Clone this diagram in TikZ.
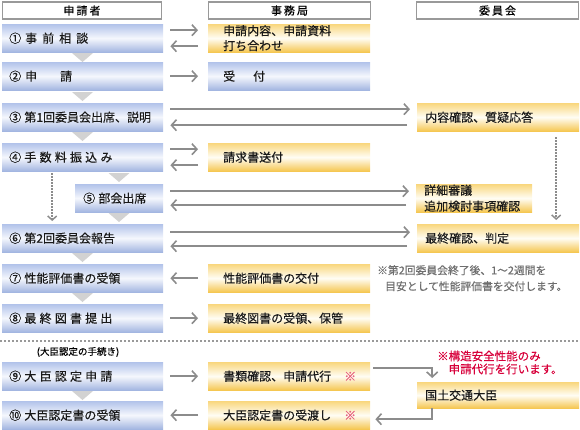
\documentclass[tikz,border=0pt]{standalone}
\usepackage{fontspec}
\setmainfont{Noto Sans CJK JP}[FakeBold=0.3]
\usepackage{xcolor}
\usetikzlibrary{arrows.meta, positioning, calc}
\definecolor{blueTop}{HTML}{B2C3EA}
\definecolor{blueMid}{HTML}{F5F7FD}
\definecolor{blueBot}{HTML}{A2B5E1}
\definecolor{yelTop}{HTML}{F9D77E}
\definecolor{yelMid}{HTML}{FFFDF4}
\definecolor{yelBot}{HTML}{F5C650}
\definecolor{arrowgray}{HTML}{8C8C8C}
\definecolor{headgray}{HTML}{999999}
\definecolor{trigray}{HTML}{D2D2D2}
\definecolor{notegray}{HTML}{6E6E6E}
\definecolor{notered}{HTML}{D7003A}
\definecolor{markred}{HTML}{E65C7E}
\newcommand{\boxfont}{\fontsize{12}{15}\selectfont}
\newcommand{\headfont}{\fontsize{11}{13}\selectfont}
\newcommand{\notefont}{\fontsize{10.8}{16}\selectfont}
\newcommand{\redfont}{\fontsize{11.5}{13}\selectfont}
\newcommand{\labelfont}{\fontsize{9.5}{11}\selectfont}
\newcommand{\jsp}{\hspace{3.2pt}}
\newcommand{\downtri}[2]{\fill[trigray] (#1-10.5,#2) -- (#1+10.5,#2) -- (#1,#2+9) -- cycle;}

\begin{document}
\begin{tikzpicture}[
  x=1pt, y=-1pt,
  box/.style={anchor=north west, minimum height=28pt, inner ysep=0pt,
              align=left, font=\boxfont, text=black!90},
  bluebox/.style={box, top color=blueTop, bottom color=blueBot, middle color=blueMid},
  yelbox/.style={box, top color=yelTop, bottom color=yelBot, middle color=yelMid},
  leftcol/.style={bluebox, text width=147pt, inner xsep=7pt},
  midcol/.style={yelbox, text width=132pt, inner xsep=15pt},
  rightcol/.style={yelbox, text width=146pt, inner xsep=8pt},
  head/.style={draw=headgray, line width=1.5pt, fill=white, minimum height=17pt,
               inner sep=0pt, font=\headfont},
  arr/.style={draw=arrowgray, line width=1.6pt, -{Straight Barb[length=5pt,width=11pt]}},
  dotarr/.style={draw=arrowgray, line width=1.5pt, dash pattern=on 1.5pt off 1.5pt,
                 -{Straight Barb[length=4pt,width=9pt]}},
]
\useasboundingbox (0,0) rectangle (580,429);

% column heads
\node[head, minimum width=159pt] (hApp) at (82,10.5)    {申\hspace{2pt}請\hspace{2pt}者};
\node[head, minimum width=162pt] (hOff) at (289.5,10.5) {事\hspace{2pt}務\hspace{2pt}局};
\node[head, minimum width=162pt] (hCom) at (497.5,10.5) {委\hspace{2pt}員\hspace{2pt}会};

% applicant steps
\node[leftcol] (s1) at (2,24)  {①\hspace{4pt}事\hspace{5pt}前\hspace{5pt}相\hspace{5pt}談};
\node[leftcol] (s2) at (2,62)  {②\hspace{4pt}申\hspace{23pt}請};
\node[leftcol] (s3) at (2,103) {③\jsp 第1回委員会出席、説明};
\node[leftcol] (s4) at (2,143) {④\jsp 手\jsp 数\jsp 料\jsp 振\jsp 込\jsp み};
\node[bluebox, text width=72pt, inner xsep=8pt] (s5) at (75,184) {⑤\jsp 部会出席};
\node[leftcol] (s6) at (2,224) {⑥\jsp 第2回委員会報告};
\node[leftcol] (s7) at (2,264) {⑦\jsp 性能評価書の受領};
\node[leftcol] (s8) at (2,304) {⑧\jsp 最\jsp 終\jsp 図\jsp 書\jsp 提\jsp 出};
\node[leftcol] (s9) at (2,362) {⑨\jsp 大\jsp 臣\jsp 認\jsp 定\jsp 申\jsp 請};
\node[leftcol] (s10) at (2,401) {⑩\jsp 大臣認定書の受領};

% office
\node[midcol] (o1) at (208,24) {申請内容、申請資料\\打ち合わせ};
\node[bluebox, text width=132pt, inner xsep=15pt] (o2) at (208,62) {受\hspace{18pt}付};
\node[midcol] (o4) at (208,143) {請求書送付};
\node[midcol] (o7) at (208,264) {性能評価書の交付};
\node[midcol] (o8) at (208,304) {最終図書の受領、保管};
\node[midcol] (o9) at (208,362) {\mbox{書類確認、申請代行\hspace{13pt}\textcolor{markred}{※}}};
\node[midcol] (o10) at (208,401) {\mbox{大臣認定書の受渡し\hspace{13pt}\textcolor{markred}{※}}};

% committee
\node[rightcol] (c3) at (417,103) {内容確認、質疑応答};
\node[yelbox, text width=100pt, inner xsep=8pt, font=\fontsize{12}{16}\selectfont] (c5) at (416,184) {詳細審議\\追加検討事項確認};
\node[rightcol] (c6) at (417,224) {最終確認、判定};
\node[rightcol, minimum height=26pt] (mlit) at (417,382) {国土交通大臣};

% notes
\node[anchor=north west, inner sep=0pt, align=left, font=\notefont, text=notegray] (note7)
  at (377,265) {※第2回委員会終了後、1～2週間を\\\hspace{8pt}目安として性能評価書を交付します。};
\node[anchor=north west, inner sep=0pt, align=left, font=\redfont, text=notered] (noteMlit)
  at (437,350.5) {※構造安全性能のみ\\\hspace{1em}申請代行を行います。};
\node[font=\labelfont] (procLabel) at (78,352) {(大臣認定の手続き)};

% flow triangles
\downtri{82.5}{53}
\downtri{82.5}{92}
\downtri{82.5}{132}
\downtri{119}{173}
\downtri{119}{213}
\downtri{82.5}{253}
\downtri{82.5}{293}
\downtri{82.5}{391}

% separator
\draw[headgray, line width=1.5pt, dash pattern=on 2pt off 2pt] (0,341) -- (580,341);

% exchanges
\draw[arr] ([xshift=7pt,yshift=8pt]s1.east) -- ([xshift=-10pt,yshift=8pt]o1.west);
\draw[arr] ([xshift=-10pt,yshift=-8pt]o1.west) -- ([xshift=7pt,yshift=-8pt]s1.east);
\draw[arr] ([xshift=7pt]s2.east) -- ([xshift=-10pt]o2.west);
\draw[arr] ([xshift=7pt,yshift=8pt]s3.east) -- ([xshift=-7pt,yshift=8pt]c3.west);
\draw[arr] ([xshift=-10pt,yshift=-8pt]c3.west) -- ([xshift=7pt,yshift=-8pt]s3.east);
\draw[arr] ([xshift=7pt,yshift=8pt]s4.east) -- ([xshift=-10pt,yshift=8pt]o4.west);
\draw[arr] ([xshift=-10pt,yshift=-8pt]o4.west) -- ([xshift=7pt,yshift=-8pt]s4.east);
\draw[arr] ([xshift=7pt,yshift=7pt]s5.east) -- ([xshift=-7pt,yshift=7pt]c5.west);
\draw[arr] ([xshift=-10pt,yshift=-7pt]c5.west) -- ([xshift=7pt,yshift=-7pt]s5.east);
\draw[arr] ([xshift=7pt,yshift=6pt]s6.east) -- ([xshift=-7pt,yshift=6pt]c6.west);
\draw[arr] ([xshift=-10pt,yshift=-8pt]c6.west) -- ([xshift=7pt,yshift=-8pt]s6.east);
\draw[arr] ([xshift=-10pt]o7.west) -- ([xshift=7pt]s7.east);
\draw[arr] ([xshift=7pt]s8.east) -- ([xshift=-10pt]o8.west);
\draw[arr] ([xshift=7pt]s9.east) -- ([xshift=-10pt]o9.west);
\draw[arr] ([xshift=-10pt]o10.west) -- ([xshift=7pt]s10.east);

% skipped steps
\draw[dotarr, shorten <=2pt, shorten >=3pt] ([xshift=-30.5pt]s4.south) -- ([xshift=-30.5pt]s6.north);
\draw[dotarr, shorten <=6pt, shorten >=4pt] ([xshift=58pt]c3.south) -- ([xshift=58pt]c6.north);

% ministry route
\draw[arr, shorten >=4pt] ([xshift=3pt,yshift=8pt]o9.east) -| ([xshift=-66pt]mlit.north);
\draw[arr] ([xshift=-66pt]mlit.south) |- ([xshift=5pt,yshift=-4pt]o10.east);
\end{tikzpicture}
\end{document}
